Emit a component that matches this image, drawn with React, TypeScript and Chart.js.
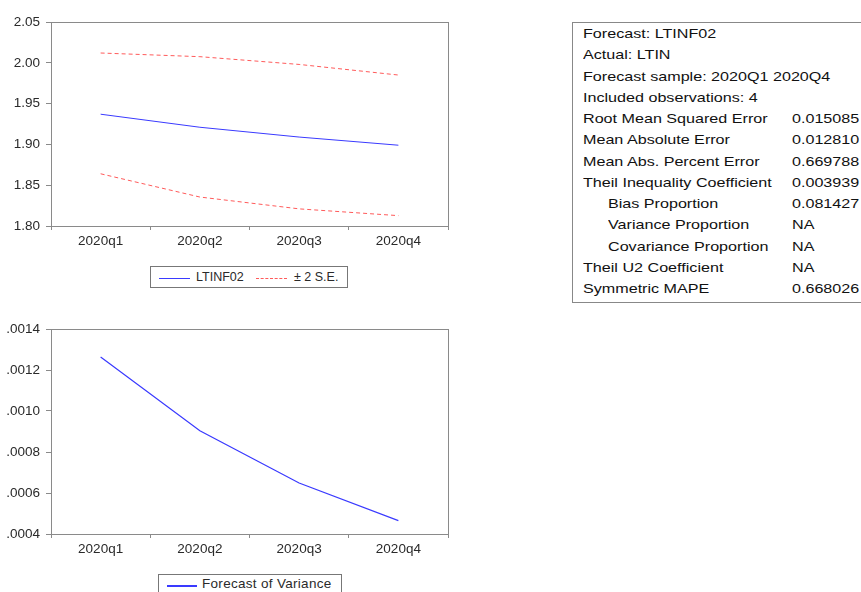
import React, { useEffect, useRef } from "react";
import { Chart, registerables } from "chart.js";

Chart.register(...registerables);

const categories = ["2020q1", "2020q2", "2020q3", "2020q4"];
const ltinf02 = [1.937, 1.921, 1.909, 1.899];
const upperSE = [2.012, 2.0075, 1.998, 1.985];
const lowerSE = [1.864, 1.8355, 1.821, 1.8127];
const forecastVariance = [0.001263, 0.000904, 0.000649, 0.000465];

const topTicks = { min: 1.8, max: 2.05, step: 0.05 };
const bottomTicks = { min: 0.0004, max: 0.0014, step: 0.0002 };

const statHeader = [
  "Forecast: LTINF02",
  "Actual: LTIN",
  "Forecast sample: 2020Q1 2020Q4",
  "Included observations: 4",
];
const statLabels = [
  "Root Mean Squared Error",
  "Mean Absolute Error",
  "Mean Abs. Percent Error",
  "Theil Inequality Coefficient",
  "Bias Proportion",
  "Variance Proportion",
  "Covariance Proportion",
  "Theil U2 Coefficient",
  "Symmetric MAPE",
];
const statValues = [
  "0.015085",
  "0.012810",
  "0.669788",
  "0.003939",
  "0.081427",
  "NA",
  "NA",
  "NA",
  "0.668026",
];
const statIndented = [false, false, false, false, true, true, true, false, false];

const FONT = "'Liberation Sans', Arial, sans-serif";
const AXIS_COLOR = "#8a8a8a";
const TEXT_COLOR = "#2a2a2a";
const BLUE = "#3a3aff";
const RED = "#ff5a5a";

const boxPlugin = {
  id: "plotBox",
  afterDraw(chart: any) {
    const { ctx, chartArea } = chart;
    ctx.save();
    ctx.strokeStyle = AXIS_COLOR;
    ctx.lineWidth = 1;
    ctx.strokeRect(
      Math.round(chartArea.left) + 0.5,
      Math.round(chartArea.top) + 0.5,
      Math.round(chartArea.right - chartArea.left),
      Math.round(chartArea.bottom - chartArea.top)
    );
    ctx.restore();
  },
};

function makeOptions(
  min: number,
  max: number,
  step: number,
  fmt: (v: number) => string,
  padTop: number,
  xHeight: number
): any {
  return {
    responsive: false,
    animation: false,
    events: [],
    layout: { padding: { top: padTop, right: 12, left: 0, bottom: 0 } },
    plugins: { legend: { display: false }, tooltip: { enabled: false } },
    elements: { point: { radius: 0 }, line: { tension: 0 } },
    scales: {
      x: {
        type: "category",
        offset: true,
        grid: {
          offset: true,
          drawOnChartArea: false,
          drawTicks: true,
          tickLength: 4,
          color: AXIS_COLOR,
        },
        border: { display: true, color: AXIS_COLOR },
        ticks: {
          color: TEXT_COLOR,
          font: { family: FONT, size: 13.5 },
          padding: 3,
          maxRotation: 0,
        },
        afterFit: (axis: any) => {
          axis.height = xHeight;
        },
      },
      y: {
        min,
        max,
        grid: {
          drawOnChartArea: false,
          drawTicks: true,
          tickLength: 5,
          color: AXIS_COLOR,
        },
        border: { display: true, color: AXIS_COLOR },
        ticks: {
          stepSize: step,
          color: TEXT_COLOR,
          font: { family: FONT, size: 13.5 },
          padding: 6,
          callback: (v: any) => fmt(Number(v)),
        },
        afterFit: (axis: any) => {
          axis.width = 51;
        },
      },
    },
  };
}

function TopChart() {
  const ref = useRef<HTMLCanvasElement>(null);
  useEffect(() => {
    const chart = new Chart(ref.current as HTMLCanvasElement, {
      type: "line",
      data: {
        labels: categories,
        datasets: [
          { label: "LTINF02", data: ltinf02, borderColor: BLUE, borderWidth: 1, fill: false },
          { label: "+2 S.E.", data: upperSE, borderColor: RED, borderWidth: 1, borderDash: [4, 3], fill: false },
          { label: "-2 S.E.", data: lowerSE, borderColor: RED, borderWidth: 1, borderDash: [4, 3], fill: false },
        ],
      },
      options: makeOptions(topTicks.min, topTicks.max, topTicks.step, (v) => v.toFixed(2), 22, 30),
      plugins: [boxPlugin],
    } as any);
    return () => chart.destroy();
  }, []);
  return <canvas ref={ref} width={460} height={256} style={{ width: 460, height: 256, display: "block" }} />;
}

function BottomChart() {
  const ref = useRef<HTMLCanvasElement>(null);
  useEffect(() => {
    const chart = new Chart(ref.current as HTMLCanvasElement, {
      type: "line",
      data: {
        labels: categories,
        datasets: [
          { label: "Forecast of Variance", data: forecastVariance, borderColor: BLUE, borderWidth: 1.2, fill: false },
        ],
      },
      options: makeOptions(
        bottomTicks.min,
        bottomTicks.max,
        bottomTicks.step,
        (v) => v.toFixed(4).replace(/^0/, ""),
        29,
        30
      ),
      plugins: [boxPlugin],
    } as any);
    return () => chart.destroy();
  }, []);
  return <canvas ref={ref} width={460} height={264} style={{ width: 460, height: 264, display: "block" }} />;
}

const scaled = (text: string): React.ReactNode => (
  <span style={{ display: "inline-block", transform: "scaleX(1.24)", transformOrigin: "left center", whiteSpace: "nowrap" }}>
    {text}
  </span>
);

export default function App() {
  const LH = 21.25;
  const rows: React.ReactNode[] = [];
  statHeader.forEach((t, i) => {
    rows.push(
      <div key={"h" + i} style={{ position: "absolute", left: 10, top: i * LH, height: LH, lineHeight: LH + "px" }}>
        {scaled(t)}
      </div>
    );
  });
  statLabels.forEach((t, i) => {
    const r = i + statHeader.length;
    rows.push(
      <div key={"l" + i} style={{ position: "absolute", left: statIndented[i] ? 35 : 10, top: r * LH, height: LH, lineHeight: LH + "px" }}>
        {scaled(t)}
      </div>
    );
    rows.push(
      <div key={"v" + i} style={{ position: "absolute", left: 219, top: r * LH, height: LH, lineHeight: LH + "px" }}>
        {scaled(statValues[i])}
      </div>
    );
  });

  return (
    <div
      style={{
        position: "fixed",
        left: 0,
        top: 0,
        width: 861,
        height: 592,
        overflow: "hidden",
        background: "#fff",
        fontFamily: FONT,
        color: "#111",
      }}
    >
      <div style={{ position: "absolute", left: 0, top: 0 }}>
        <TopChart />
      </div>
      <div
        style={{
          position: "absolute",
          left: 150,
          top: 266,
          width: 198,
          height: 22,
          border: "1px solid #777",
          boxSizing: "border-box",
          fontSize: 12.5,
          color: TEXT_COLOR,
        }}
      >
        <div style={{ position: "absolute", left: 8, top: 11, width: 31, borderTop: "1px solid " + BLUE }} />
        <div style={{ position: "absolute", left: 45, top: 3, lineHeight: "15px" }}>LTINF02</div>
        <div style={{ position: "absolute", left: 105, top: 11, width: 31, borderTop: "1px dashed " + RED }} />
        <div style={{ position: "absolute", left: 143, top: 3, lineHeight: "15px" }}>± 2 S.E.</div>
      </div>

      <div style={{ position: "absolute", left: 0, top: 300 }}>
        <BottomChart />
      </div>
      <div
        style={{
          position: "absolute",
          left: 158,
          top: 574,
          width: 184,
          height: 24,
          border: "1px solid #777",
          boxSizing: "border-box",
          fontSize: 13.5,
          color: TEXT_COLOR,
        }}
      >
        <div style={{ position: "absolute", left: 8, top: 10, width: 30, borderTop: "2px solid " + BLUE }} />
        <div style={{ position: "absolute", left: 43, top: 1, lineHeight: "16px", letterSpacing: 0.3 }}>
          Forecast of Variance
        </div>
      </div>

      <div
        style={{
          position: "absolute",
          left: 572,
          top: 22,
          width: 320,
          height: 281,
          border: "1px solid #888",
          boxSizing: "border-box",
          fontSize: 13,
        }}
      >
        {rows}
      </div>
    </div>
  );
}
